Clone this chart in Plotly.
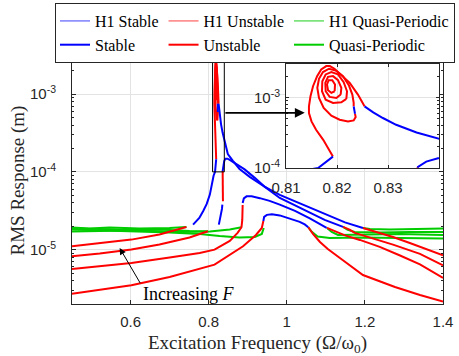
import math
import plotly.graph_objects as go

SERIF = "Liberation Serif, Times New Roman, serif"
SANS = "Liberation Sans, Arial, Helvetica, sans-serif"
AXC = "#262626"

# ---------------- data (frequency ratio, log10 RMS in m) ----------------
# Forcing level F1 (lowest)
f1_unst_low_freq = [0.45, 0.521, 0.602, 0.700, 0.815, 0.888, 0.921, 0.936, 0.940]
f1_unst_low_log = [-5.566, -5.519, -5.458, -5.351, -5.193, -4.956, -4.811, -4.721, -4.631]
f1_stab_freq = [0.940, 0.942, 0.949, 0.962, 0.982, 1.013, 1.033, 1.046, 1.055]
f1_stab_log = [-4.631, -4.579, -4.553, -4.544, -4.560, -4.605, -4.643, -4.676, -4.712]
f1_unst_high_freq = [1.055, 1.067, 1.085, 1.105, 1.136, 1.195, 1.277, 1.341, 1.40]
f1_unst_high_log = [-4.712, -4.798, -4.901, -4.991, -5.107, -5.326, -5.480, -5.583, -5.667]
f1_qp_low_freq = [0.941, 0.936, 0.918, 0.879, 0.828, 0.777, 0.700, 0.597, 0.521, 0.45]
f1_qp_low_log = [-4.721, -4.798, -4.837, -4.843, -4.824, -4.798, -4.779, -4.759, -4.746, -4.740]
f1_qp_high_freq = [1.055, 1.064, 1.079, 1.110, 1.187, 1.290, 1.40]
f1_qp_high_log = [-4.712, -4.772, -4.830, -4.849, -4.843, -4.849, -4.856]

# Forcing level F2
f2_unst_low_freq = [0.45, 0.521, 0.602, 0.700, 0.777, 0.815, 0.854, 0.874, 0.884, 0.886, 0.886, 0.887]
f2_unst_low_log = [-5.248, -5.216, -5.171, -5.100, -5.042, -5.000, -4.888, -4.785, -4.712, -4.618, -4.515, -4.425]
f2_stab_freq = [0.887, 0.890, 0.897, 0.910, 0.931, 0.956, 0.982, 1.021, 1.059, 1.085, 1.102]
f2_stab_log = [-4.399, -4.341, -4.315, -4.315, -4.338, -4.373, -4.421, -4.502, -4.598, -4.669, -4.721]
f2_unst_high_freq = [1.103, 1.123, 1.149, 1.187, 1.238, 1.290, 1.341, 1.40]
f2_unst_high_log = [-4.721, -4.766, -4.817, -4.875, -4.965, -5.075, -5.190, -5.364]
f2_qp_low_freq = [0.884, 0.854, 0.803, 0.726, 0.649, 0.572, 0.521, 0.45]
f2_qp_low_log = [-4.712, -4.740, -4.766, -4.772, -4.759, -4.753, -4.759, -4.766]
f2_qp_high_freq = [1.103, 1.115, 1.131, 1.187, 1.290, 1.40]
f2_qp_high_log = [-4.721, -4.772, -4.811, -4.804, -4.798, -4.811]

# Forcing level F3
f3_unst_low_freq = [0.45, 0.521, 0.602, 0.674, 0.751, 0.798]
f3_unst_low_log = [-5.085, -5.049, -4.997, -4.933, -4.843, -4.763]
f3_qp_low_freq = [0.798, 0.751, 0.674, 0.597, 0.521, 0.45]
f3_qp_low_log = [-4.763, -4.759, -4.740, -4.746, -4.734, -4.727]
f3_stab_rise_freq = [0.826, 0.831, 0.834, 0.835]
f3_stab_rise_log = [-4.678, -4.566, -4.476, -4.421]
f3_unst_rise_freq = [0.8365, 0.8365, 0.8363, 0.8360, 0.83575]
f3_unst_rise_log = [-4.377, -4.270, -4.142, -4.051, -3.990]
f3_stab_fall_freq = [0.83575, 0.8375, 0.8398, 0.843, 0.848, 0.854, 0.867, 0.892, 0.918, 0.944,
                     0.982, 1.021, 1.059, 1.097, 1.144]
f3_stab_fall_log = [-3.990, -3.910, -3.862, -3.830, -3.830, -3.846, -3.884, -3.968, -4.077, -4.193,
                    -4.335, -4.431, -4.528, -4.618, -4.708]
f3_unst_high_freq = [1.144, 1.162, 1.174, 1.213, 1.272, 1.341, 1.40]
f3_unst_high_log = [-4.708, -4.746, -4.785, -4.843, -4.936, -5.055, -5.201]
f3_qp_high_freq = [1.144, 1.156, 1.174, 1.238, 1.315, 1.40]
f3_qp_high_log = [-4.708, -4.746, -4.772, -4.779, -4.772, -4.772]

# Forcing level F4 (highest)
f4_unst_low_freq = [0.45, 0.521, 0.602, 0.674, 0.743]
f4_unst_low_log = [-4.956, -4.920, -4.871, -4.804, -4.708]
f4_qp_low_freq = [0.743, 0.700, 0.623, 0.546, 0.495, 0.45]
f4_qp_low_log = [-4.708, -4.721, -4.727, -4.714, -4.727, -4.714]
f4_stab_rise_freq = [0.760, 0.776, 0.786, 0.795, 0.803, 0.809, 0.8125, 0.8163, 0.8178, 0.8192]
f4_stab_rise_log = [-4.678, -4.592, -4.502, -4.412, -4.292, -4.116, -4.050, -4.000, -3.920, -3.838]
f4_unst_peak_freq = [0.8192, 0.8182, 0.8173, 0.8159, 0.8150, 0.8145, 0.8145, 0.8148, 0.8153,
                     0.8161, 0.8169, 0.8179, 0.8186, 0.8195, 0.8208, 0.8225, 0.8241, 0.8254]
f4_unst_peak_log = [-3.838, -3.719, -3.600, -3.457, -3.338, -3.219, -3.124, -2.981, -2.838,
                    -2.696, -2.600, -2.553, -2.553, -2.590, -2.671, -2.790, -2.957, -3.124]
f4_stab_fall_freq = [0.8254, 0.8271, 0.8290, 0.8316, 0.8356, 0.8398, 0.849, 0.862, 0.879, 0.905,
                     0.944, 0.982, 1.033, 1.059, 1.110, 1.149, 1.195]
f4_stab_fall_log = [-3.124, -3.210, -3.290, -3.386, -3.495, -3.590, -3.770, -3.858, -3.962, -4.064,
                    -4.193, -4.296, -4.405, -4.457, -4.566, -4.650, -4.721]
f4_unst_high_freq = [1.195, 1.213, 1.238, 1.272, 1.315, 1.354, 1.40]
f4_unst_high_log = [-4.721, -4.746, -4.785, -4.837, -4.914, -4.991, -5.072]
f4_qp_high_freq = [1.195, 1.213, 1.264, 1.341, 1.40]
f4_qp_high_log = [-4.721, -4.734, -4.740, -4.734, -4.727]

# Inner loops near the resonance peak (seen in the inset)
loop2_stab_freq = [0.82327, 0.82340, 0.82353]
loop2_stab_log = [-3.124, -3.171, -3.229]
loop2_unst_freq = [0.82353, 0.82366, 0.82327, 0.82216, 0.82052, 0.81889, 0.81739, 0.81647, 0.81614,
                   0.81647, 0.81725, 0.81843, 0.81974, 0.82118, 0.82235, 0.82301, 0.82327, 0.82327]
loop2_unst_log = [-3.229, -3.276, -3.324, -3.338, -3.314, -3.257, -3.148, -3.005, -2.862,
                  -2.733, -2.638, -2.590, -2.614, -2.695, -2.829, -2.957, -3.076, -3.124]
loop3_unst_freq = [0.82183, 0.82085, 0.81922, 0.81778, 0.81706, 0.81712, 0.81778, 0.81889, 0.82020,
                   0.82131, 0.82196, 0.82183]
loop3_unst_log = [-3.019, -3.067, -3.076, -3.029, -2.910, -2.767, -2.671, -2.638, -2.671,
                  -2.781, -2.910, -3.019]
loop4_unst_freq = [0.82072, 0.81987, 0.81856, 0.81778, 0.81771, 0.81824, 0.81922, 0.82020, 0.82085, 0.82072]
loop4_unst_log = [-2.957, -3.005, -2.990, -2.910, -2.790, -2.705, -2.695, -2.752, -2.862, -2.957]
loop5_unst_freq = [0.81954, 0.81889, 0.81824, 0.81804, 0.81837, 0.81908, 0.81961, 0.81954]
loop5_unst_log = [-2.910, -2.933, -2.895, -2.814, -2.752, -2.752, -2.814, -2.910]

main_xticks = [0.6, 0.8, 1, 1.2, 1.4]
inset_xticks = [0.81, 0.82, 0.83]
main_yticks = [1e-5, 1e-4, 1e-3]
main_yticklabels = ["10<sup>-5</sup>", "10<sup>-4</sup>", "10<sup>-3</sup>"]
inset_yticks = [1e-4, 1e-3]
inset_yticklabels = ["10<sup>-4</sup>", "10<sup>-3</sup>"]


def build(segments):
    xs, ys = [], []
    for fx, ly in segments:
        xs.extend(fx)
        xs.append(None)
        ys.extend(10.0 ** v for v in ly)
        ys.append(None)
    return xs, ys


stable_x, stable_y = build([
    (f1_stab_freq, f1_stab_log), (f2_stab_freq, f2_stab_log),
    (f3_stab_rise_freq, f3_stab_rise_log), (f3_stab_fall_freq, f3_stab_fall_log),
    (f4_stab_rise_freq, f4_stab_rise_log), (f4_stab_fall_freq, f4_stab_fall_log),
    (loop2_stab_freq, loop2_stab_log)])
unstable_x, unstable_y = build([
    (f1_unst_low_freq, f1_unst_low_log), (f1_unst_high_freq, f1_unst_high_log),
    (f2_unst_low_freq, f2_unst_low_log), (f2_unst_high_freq, f2_unst_high_log),
    (f3_unst_low_freq, f3_unst_low_log), (f3_unst_rise_freq, f3_unst_rise_log),
    (f3_unst_high_freq, f3_unst_high_log),
    (f4_unst_low_freq, f4_unst_low_log), (f4_unst_peak_freq, f4_unst_peak_log),
    (f4_unst_high_freq, f4_unst_high_log),
    (loop2_unst_freq, loop2_unst_log), (loop3_unst_freq, loop3_unst_log),
    (loop4_unst_freq, loop4_unst_log), (loop5_unst_freq, loop5_unst_log)])
qp_x, qp_y = build([
    (f1_qp_low_freq, f1_qp_low_log), (f1_qp_high_freq, f1_qp_high_log),
    (f2_qp_low_freq, f2_qp_low_log), (f2_qp_high_freq, f2_qp_high_log),
    (f3_qp_low_freq, f3_qp_low_log), (f3_qp_high_freq, f3_qp_high_log),
    (f4_qp_low_freq, f4_qp_low_log), (f4_qp_high_freq, f4_qp_high_log)])

BLUE, RED, GREEN = "#0000ff", "#ff0000", "#00cc00"
H1BLUE, H1RED, H1GREEN = "#7f7fff", "#ff7f7f", "#66e066"

fig = go.Figure()

# legend-only entries for the H1 series (each legend group forms one legend column)
for name, col, rank, grp in [("H1 Stable", H1BLUE, 1, "s"), ("H1 Unstable", H1RED, 3, "u"),
                             ("H1 Quasi-Periodic", H1GREEN, 5, "q")]:
    fig.add_trace(go.Scatter(x=[None], y=[None], mode="lines", name=name,
                             line=dict(color=col, width=1.5), legendrank=rank, legendgroup=grp,
                             xaxis="x", yaxis="y"))

for xa, ya, show in [("x", "y", True), ("x2", "y2", False)]:
    fig.add_trace(go.Scatter(x=qp_x, y=qp_y, mode="lines", name="Quasi-Periodic",
                             line=dict(color=GREEN, width=2), legendrank=6, legendgroup="q",
                             showlegend=show, xaxis=xa, yaxis=ya, connectgaps=False))
    fig.add_trace(go.Scatter(x=unstable_x, y=unstable_y, mode="lines", name="Unstable",
                             line=dict(color=RED, width=2), legendrank=4, legendgroup="u",
                             showlegend=show, xaxis=xa, yaxis=ya, connectgaps=False))
    fig.add_trace(go.Scatter(x=stable_x, y=stable_y, mode="lines", name="Stable",
                             line=dict(color=BLUE, width=2), legendrank=2, legendgroup="s",
                             showlegend=show, xaxis=xa, yaxis=ya, connectgaps=False))

L, R, T, B = 72, 16, 57, 52
W, H = 459, 356
pw, ph = W - L - R, H - T - B


def px(xp):
    return (xp - L) / pw


def py(yp):
    return (H - B - yp) / ph


common = dict(showline=True, linecolor=AXC, linewidth=1, mirror="allticks", ticks="inside",
              tickcolor=AXC, zeroline=False, gridcolor="#e3e3e3", gridwidth=1, showgrid=True,
              automargin=False, tickfont=dict(family=SANS, size=15, color=AXC))

fig.update_layout(
    width=W, height=H,
    margin=dict(l=L, r=R, t=T, b=B, autoexpand=False),
    paper_bgcolor="white", plot_bgcolor="white",
    showlegend=True,
    legend=dict(orientation="h", x=px(55), y=py(3), xanchor="left", yanchor="top",
                traceorder="grouped", tracegroupgap=0, groupclick="toggleitem",
                bgcolor="white", bordercolor=AXC, borderwidth=1,
                font=dict(family=SERIF, size=16, color="black"), itemwidth=30),
    xaxis=dict(range=[0.45, 1.4], domain=[0, 1], anchor="y", tickvals=main_xticks,
               ticklen=4, ticklabelstandoff=4,
               title=dict(text="Excitation Frequency (Ω/ω<sub>0</sub>)",
                          font=dict(family=SERIF, size=19, color=AXC), standoff=6),
               **common),
    yaxis=dict(type="log", range=[math.log10(2e-6), math.log10(3e-3)], domain=[0, 1], anchor="x",
               tickvals=main_yticks, ticktext=main_yticklabels, ticklen=4, ticklabelstandoff=12,
               minor=dict(ticks="inside", ticklen=2, dtick="D1", tickcolor=AXC, showgrid=False),
               title=dict(text="RMS Response (m)", font=dict(family=SERIF, size=19, color=AXC),
                          standoff=0),
               **common),
    xaxis2=dict(range=[0.81, 0.84], domain=[px(286), px(439)], anchor="y2", tickvals=inset_xticks,
                ticklen=3, ticklabelstandoff=6, **common),
    yaxis2=dict(type="log", range=[-4, math.log10(3e-3)], domain=[py(168), py(64)], anchor="x2",
                tickvals=inset_yticks, ticktext=inset_yticklabels, ticklen=3, ticklabelstandoff=2,
                minor=dict(ticks="inside", ticklen=2, dtick="D1", tickcolor=AXC, showgrid=False),
                **common),
    shapes=[dict(type="rect", xref="x", yref="y", x0=0.81, x1=0.84, y0=1e-4, y1=2.95e-3,
                 line=dict(color="black", width=1), fillcolor="rgba(0,0,0,0)")],
    annotations=[
        dict(xref="x", yref="y", axref="x", ayref="y", x=0.572, y=-4.978, ax=0.627, ay=-5.450,
             text="", showarrow=True, arrowhead=2, arrowsize=1.3, arrowwidth=1, arrowcolor="black",
             standoff=0, startstandoff=0),
        dict(xref="x", yref="y", x=0.749, y=-5.575, text="Increasing <i>F</i>", showarrow=False,
             font=dict(family=SERIF, size=18, color="black")),
        dict(xref="x", yref="y", axref="x", ayref="y", x=1.046, y=-3.241, ax=0.839, ay=-3.241,
             text="", showarrow=True, arrowhead=2, arrowsize=1.1, arrowwidth=1.8, arrowcolor="black",
             standoff=0, startstandoff=0),
    ],
)

fig.write_html("out.html", config={"displayModeBar": False},
               post_script="document.body.style.margin='0';")
